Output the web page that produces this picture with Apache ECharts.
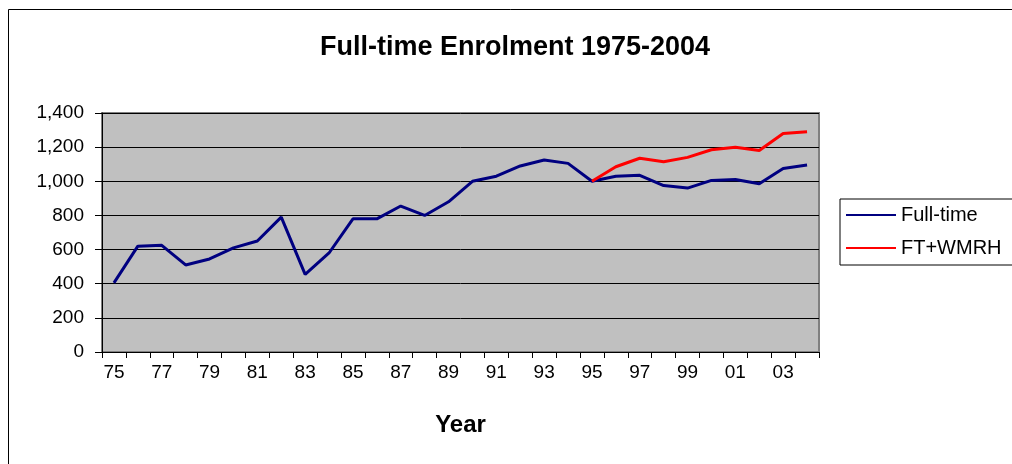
<!DOCTYPE html>
<html>
<head>
<meta charset="utf-8">
<script src="https://cdn.jsdelivr.net/npm/echarts@6/dist/echarts.min.js"></script>
<style>
  html, body { margin: 0; padding: 0; background: #fff; }
  #chart { width: 1012px; height: 464px; }
</style>
</head>
<body>
<div id="chart"></div>
<script>
// 年份（横轴）
var years = ['75', '76', '77', '78', '79', '80', '81', '82', '83', '84',
  '85', '86', '87', '88', '89', '90', '91', '92', '93', '94',
  '95', '96', '97', '98', '99', '00', '01', '02', '03', '04'];
// Full-time
var fullTime = [405, 620, 625, 510, 545, 610, 650, 790, 455, 580,
  780, 780, 855, 800, 880, 1000, 1030, 1090, 1125, 1105,
  1000, 1030, 1035, 975, 960, 1005, 1010, 985, 1075, 1095];
// FT+WMRH，1995 年以前没有数据
var ftWmrh = [null, null, null, null, null, null, null, null, null, null,
  null, null, null, null, null, null, null, null, null, null,
  1000, 1085, 1135, 1115, 1140, 1185, 1200, 1180, 1280, 1290];

var font = 'Arial, "Liberation Sans", sans-serif';
var chart = echarts.init(document.getElementById('chart'));

var option = {
  backgroundColor: '#ffffff',
  animation: false,
  title: {
    text: 'Full-time Enrolment 1975-2004',
    left: 320,
    top: 34,
    padding: 0,
    textStyle: { fontFamily: font, fontSize: 27, fontWeight: 'bold', color: '#000' }
  },
  graphic: [{
    type: 'rect',
    shape: { x: 8.5, y: 9.5, width: 1100, height: 600 },
    style: { fill: 'none', stroke: '#000', lineWidth: 1 },
    silent: true
  }],
  legend: {
    orient: 'vertical',
    left: 840,
    top: 199,
    width: 167,
    padding: [6, 12, 7, 6],
    itemGap: 13,
    itemWidth: 50,
    itemHeight: 2,
    icon: 'rect',
    borderColor: '#000',
    borderWidth: 1,
    backgroundColor: '#fff',
    textStyle: { fontFamily: font, fontSize: 20, lineHeight: 20, color: '#000' },
    data: ['Full-time', 'FT+WMRH']
  },
  grid: {
    left: 102,
    right: 193,
    top: 113,
    bottom: 112,
    show: true,
    backgroundColor: '#c0c0c0',
    borderColor: '#808080',
    borderWidth: 2
  },
  xAxis: {
    type: 'category',
    data: years,
    boundaryGap: true,
    name: 'Year',
    nameLocation: 'middle',
    nameGap: 61,
    nameTextStyle: { fontFamily: font, fontSize: 24, fontWeight: 'bold', color: '#000' },
    axisLine: { lineStyle: { color: '#000', width: 1 } },
    axisTick: { show: true, length: 6, interval: 0, lineStyle: { color: '#000' } },
    axisLabel: { interval: 1, margin: 11, fontFamily: font, fontSize: 19, color: '#000' },
    splitLine: { show: false }
  },
  yAxis: {
    type: 'value',
    min: 0,
    max: 1400,
    interval: 200,
    axisLine: { show: true, lineStyle: { color: '#000', width: 1 } },
    axisTick: { show: true, length: 7, lineStyle: { color: '#000' } },
    axisLabel: {
      margin: 18,
      fontFamily: font,
      fontSize: 19,
      color: '#000',
      formatter: function (v) { return v.toString().replace(/\B(?=(\d{3})+(?!\d))/g, ','); }
    },
    splitLine: { show: true, lineStyle: { color: '#000', width: 1 } }
  },
  series: [
    {
      name: 'Full-time',
      type: 'line',
      data: fullTime,
      symbol: 'none',
      color: '#000080',
      lineStyle: { color: '#000080', width: 3 }
    },
    {
      name: 'FT+WMRH',
      type: 'line',
      data: ftWmrh,
      symbol: 'none',
      color: '#ff0000',
      lineStyle: { color: '#ff0000', width: 3 }
    }
  ]
};

chart.setOption(option);
window.addEventListener('resize', function () { chart.resize(); });
</script>
</body>
</html>
